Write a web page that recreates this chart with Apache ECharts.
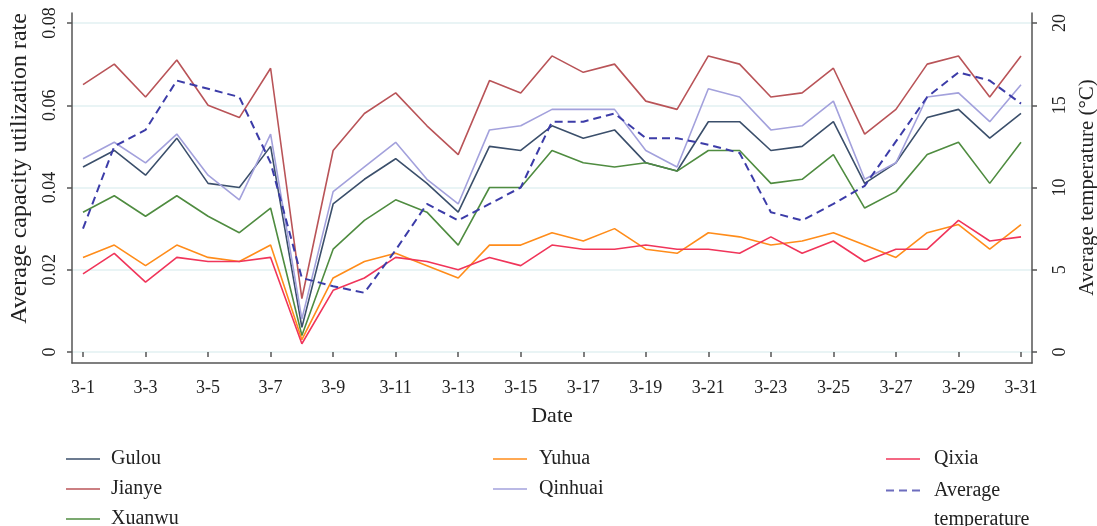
<!DOCTYPE html>
<html>
<head>
<meta charset="utf-8">
<script src="https://cdn.jsdelivr.net/npm/echarts@6/dist/echarts.min.js"></script>
<style>html,body{margin:0;padding:0;background:#fff}#c{width:1097px;height:526px}</style>
</head>
<body>
<div id="c"></div>
<script>
const dates = ['3-1','3-2','3-3','3-4','3-5','3-6','3-7','3-8','3-9','3-10','3-11','3-12','3-13','3-14','3-15','3-16','3-17','3-18','3-19','3-20','3-21','3-22','3-23','3-24','3-25','3-26','3-27','3-28','3-29','3-30','3-31'];
const gulou   = [0.045,0.049,0.043,0.052,0.041,0.040,0.050,0.006,0.036,0.042,0.047,0.041,0.034,0.050,0.049,0.055,0.052,0.054,0.046,0.044,0.056,0.056,0.049,0.050,0.056,0.041,0.046,0.057,0.059,0.052,0.058];
const jianye  = [0.065,0.070,0.062,0.071,0.060,0.057,0.069,0.013,0.049,0.058,0.063,0.055,0.048,0.066,0.063,0.072,0.068,0.070,0.061,0.059,0.072,0.070,0.062,0.063,0.069,0.053,0.059,0.070,0.072,0.062,0.072];
const xuanwu  = [0.034,0.038,0.033,0.038,0.033,0.029,0.035,0.004,0.025,0.032,0.037,0.034,0.026,0.040,0.040,0.049,0.046,0.045,0.046,0.044,0.049,0.049,0.041,0.042,0.048,0.035,0.039,0.048,0.051,0.041,0.051];
const yuhua   = [0.023,0.026,0.021,0.026,0.023,0.022,0.026,0.003,0.018,0.022,0.024,0.021,0.018,0.026,0.026,0.029,0.027,0.030,0.025,0.024,0.029,0.028,0.026,0.027,0.029,0.026,0.023,0.029,0.031,0.025,0.031];
const qinhuai = [0.047,0.051,0.046,0.053,0.043,0.037,0.053,0.008,0.039,0.045,0.051,0.042,0.036,0.054,0.055,0.059,0.059,0.059,0.049,0.045,0.064,0.062,0.054,0.055,0.061,0.042,0.046,0.062,0.063,0.056,0.065];
const qixia   = [0.019,0.024,0.017,0.023,0.022,0.022,0.023,0.002,0.015,0.018,0.023,0.022,0.020,0.023,0.021,0.026,0.025,0.025,0.026,0.025,0.025,0.024,0.028,0.024,0.027,0.022,0.025,0.025,0.032,0.027,0.028];
const avgTemp = [7.5,12.5,13.5,16.5,16.0,15.5,11.5,4.5,4.0,3.6,6.2,9.0,8.0,9.0,10.0,14.0,14.0,14.5,13.0,13.0,12.6,12.1,8.5,8.0,9.0,10.1,12.8,15.5,17.0,16.5,15.1];

const FONT = '"Liberation Serif", "DejaVu Serif", serif';
const TXT = '#222';
const AX = '#555';

function line(name, data, color, yIdx, dashed) {
  return {
    name: name, type: 'line', data: data, xAxisIndex: 0, yAxisIndex: yIdx,
    symbol: 'none', smooth: false,
    lineStyle: { color: color, width: dashed ? 2 : 1.6, type: dashed ? [8, 5] : 'solid' },
    itemStyle: { color: color },
    emphasis: { disabled: true }
  };
}

const SOLID_ICON = 'rect';
// dashes at the top of a taller box so the icon lines up with the first text line
const DASH_ICON = 'path://M0,0h8v2h-8zM13,0h8v2h-8zM26,0h8v2h-8zM33.99,30.99h0.01v0.01h-0.01z';

function legend(left, top, names, pad, extra) {
  return Object.assign({
    orient: 'vertical', left: left, top: top, height: 120, padding: 0,
    itemWidth: 34, itemHeight: 2, itemGap: 6,
    data: names.map(n => ({ name: n, icon: SOLID_ICON })),
    itemStyle: { opacity: 0.75 },
    textStyle: { fontFamily: FONT, fontSize: 20, color: TXT, lineHeight: 24, padding: [0, 0, 0, pad] }
  }, extra || {});
}

const chart = echarts.init(document.getElementById('c'), null, { renderer: 'canvas' });
chart.setOption({
  animation: false,
  backgroundColor: '#fff',
  grid: [
    { left: 83, right: 76, top: 23, bottom: 174, containLabel: false, outerBoundsMode: 'none' },
    { left: 72, right: 65, top: 23, bottom: 174, containLabel: false, outerBoundsMode: 'none' },
    { left: 72, right: 65, top: 13, bottom: 163, containLabel: false, outerBoundsMode: 'none' }
  ],
  xAxis: [
    {
      type: 'category', gridIndex: 0, data: dates, boundaryGap: false, offset: 11,
      axisLine: { show: false },
      axisTick: { show: true, interval: 1, length: 5, lineStyle: { color: AX, width: 1.5 } },
      axisLabel: { interval: 1, margin: 16, fontFamily: FONT, fontSize: 18, color: TXT },
      splitLine: { show: false },
      name: 'Date', nameLocation: 'middle', nameGap: 42,
      nameTextStyle: { fontFamily: FONT, fontSize: 22, color: TXT }
    },
    { type: 'value', gridIndex: 1, min: 0, max: 1, show: false },
    {
      type: 'value', gridIndex: 2, min: 0, max: 1,
      axisLine: { show: true, lineStyle: { color: AX, width: 1.5 } },
      axisTick: { show: false }, axisLabel: { show: false }, splitLine: { show: false }
    }
  ],
  yAxis: [
    {
      type: 'value', gridIndex: 0, position: 'left', min: 0, max: 0.08, interval: 0.02, offset: 11,
      axisLine: { show: false },
      axisTick: { show: true, length: 5, lineStyle: { color: AX, width: 1.5 } },
      axisLabel: { rotate: 90, margin: 13, fontFamily: FONT, fontSize: 18, color: TXT,
                   formatter: v => (v === 0 ? '0' : v.toFixed(2)) },
      splitLine: { show: false },
      name: 'Average capacity utilization rate', nameLocation: 'middle', nameGap: 40, nameRotate: 90,
      nameTextStyle: { fontFamily: FONT, fontSize: 24, color: TXT, padding: [0, 0, 0, 38] }
    },
    {
      type: 'value', gridIndex: 0, position: 'right', min: 0, max: 20, interval: 5, offset: 11,
      axisLine: { show: false },
      axisTick: { show: true, length: 5, lineStyle: { color: AX, width: 1.5 } },
      axisLabel: { rotate: 90, margin: 19, fontFamily: FONT, fontSize: 18, color: TXT },
      splitLine: { show: false },
      name: 'Average temperature (°C)', nameLocation: 'middle', nameGap: 37, nameRotate: 90,
      nameTextStyle: { fontFamily: FONT, fontSize: 21, color: TXT }
    },
    {
      type: 'value', gridIndex: 1, min: 0, max: 0.08, interval: 0.02,
      axisLine: { show: false }, axisTick: { show: false }, axisLabel: { show: false },
      splitLine: { show: true, lineStyle: { color: '#e2f0f2', width: 1.5 } }
    },
    {
      type: 'value', gridIndex: 2, position: 'left', min: 0, max: 1,
      axisLine: { show: true, lineStyle: { color: AX, width: 1.5 } },
      axisTick: { show: false }, axisLabel: { show: false }, splitLine: { show: false }
    },
    {
      type: 'value', gridIndex: 2, position: 'right', min: 0, max: 1,
      axisLine: { show: true, lineStyle: { color: AX, width: 1.5 } },
      axisTick: { show: false }, axisLabel: { show: false }, splitLine: { show: false }
    }
  ],
  legend: [
    legend(66, 447, ['Gulou', 'Jianye', 'Xuanwu'], 6),
    legend(493, 447, ['Yuhua', 'Qinhuai'], 7),
    legend(886, 447, ['Qixia'], 9),
    legend(886, 0, ['Average temperature'], 9, {
      top: 476, itemHeight: 31,
      data: [{ name: 'Average temperature', icon: DASH_ICON }],
      formatter: () => 'Average\ntemperature',
      textStyle: { fontFamily: FONT, fontSize: 20, color: TXT, lineHeight: 29, padding: [0, 0, 0, 9] }
    })
  ],
  series: [
    line('Gulou', gulou, '#3b4f6b', 0, false),
    line('Jianye', jianye, '#b95458', 0, false),
    line('Xuanwu', xuanwu, '#4f8c40', 0, false),
    line('Yuhua', yuhua, '#ff8c1a', 0, false),
    line('Qinhuai', qinhuai, '#a3a1dc', 0, false),
    line('Qixia', qixia, '#f0355a', 0, false),
    line('Average temperature', avgTemp, '#3c3ca8', 1, true)
  ]
});
</script>
</body>
</html>
